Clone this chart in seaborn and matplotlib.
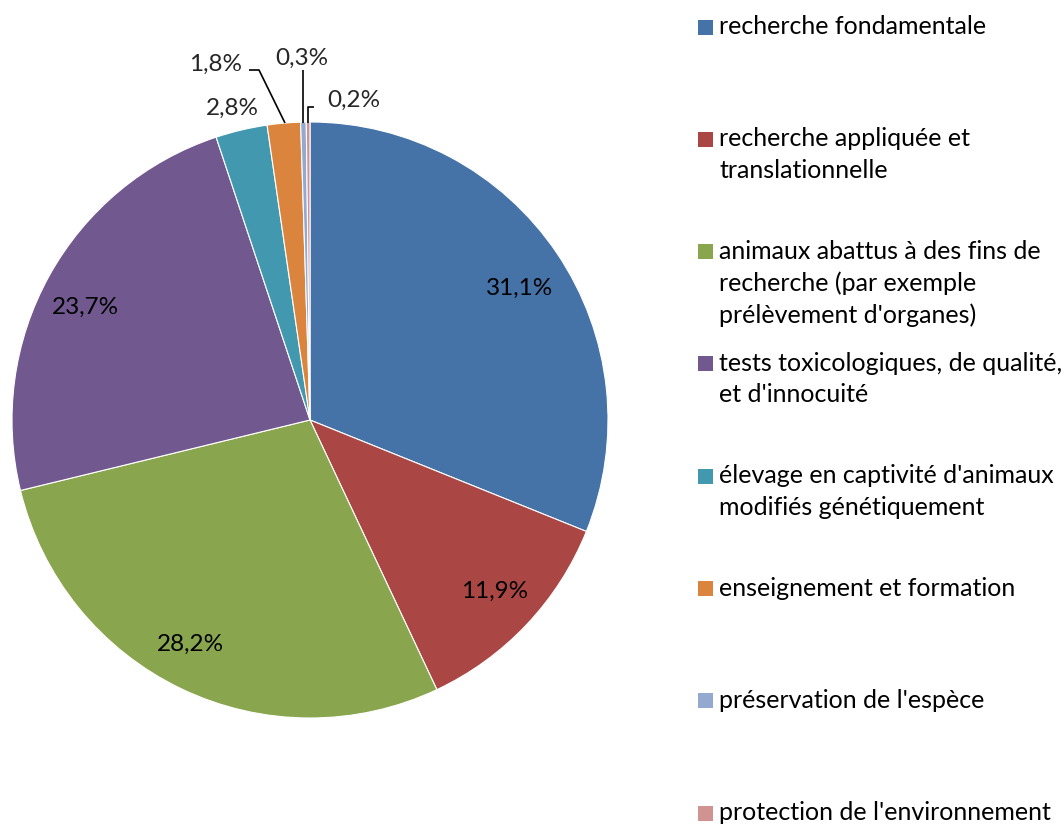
import matplotlib
matplotlib.use("Agg")
import matplotlib.pyplot as plt
from matplotlib.patches import Rectangle
import seaborn as sns
import numpy as np

categories = [
    "recherche fondamentale",
    "recherche appliquée et\ntranslationnelle",
    "animaux abattus à des fins de\nrecherche (par exemple\nprélèvement d'organes)",
    "tests toxicologiques, de qualité,\net d'innocuité",
    "élevage en captivité d'animaux\nmodifiés génétiquement",
    "enseignement et formation",
    "préservation de l'espèce",
    "protection de l'environnement",
]
values = [31.1, 11.9, 28.2, 23.7, 2.8, 1.8, 0.3, 0.2]
pct_labels = ["31,1%", "11,9%", "28,2%", "23,7%", "2,8%", "1,8%", "0,3%", "0,2%"]
colors = ["#4572A7", "#AA4643", "#89A54E", "#71588F", "#4198AF", "#DB843D", "#93A9CF", "#D19392"]

sns.set_theme(style="white")
plt.rcParams['font.family'] = ['Lato', 'DejaVu Sans']

W, H = 1064, 826
fig = plt.figure(figsize=(W / 100, H / 100), dpi=100)
fig.patch.set_facecolor("white")

# pie axes placed in pixel terms
cx, cy, R = 310, 420, 298
half = 320
ax = fig.add_axes([(cx - half) / W, (H - cy - half) / H, 2 * half / W, 2 * half / H])

wedges, _ = ax.pie(values, colors=colors, startangle=90, counterclock=False,
                   radius=1.0, wedgeprops=dict(edgecolor="white", linewidth=0.8))
ax.set_xlim(-half / R, half / R)
ax.set_ylim(-half / R, half / R)
ax.set_aspect("equal")
ax.axis("off")

fs_pct = 17.5
fs_leg = 18
# inside labels (layout nudges in pixels: right, down)
nudges = [(2, 8), (3, -1), (-12, -1), (-6, 9)]
for i in range(4):
    w = wedges[i]
    ang = np.deg2rad((w.theta1 + w.theta2) / 2)
    r = 0.84
    dx, dy = nudges[i]
    ax.text(r * np.cos(ang) + dx / R, r * np.sin(ang) - dy / R, pct_labels[i],
            ha="center", va="center", fontsize=fs_pct, color="black")

def px(x, y):
    return ((x - cx) / R, (cy - y) / R)

# outside labels with leader lines
ax.text(*px(232, 108), pct_labels[4], ha="center", va="center", fontsize=fs_pct)
ax.text(*px(216, 64), pct_labels[5], ha="center", va="center", fontsize=fs_pct)
ax.text(*px(302, 58), pct_labels[6], ha="center", va="center", fontsize=fs_pct)
ax.text(*px(354, 100), pct_labels[7], ha="center", va="center", fontsize=fs_pct)

def line(pts):
    xs, ys = zip(*[px(x, y) for x, y in pts])
    ax.plot(xs, ys, color="black", lw=1.2, solid_capstyle="butt", clip_on=False)

line([(249, 70), (259, 70), (285, 123)])
line([(303, 70), (303, 123)])
line([(314, 107), (308, 107), (308, 123)])

# legend (evenly spaced entries, Excel style)
top0 = 27
step = 112.3
for i, (lab, col) in enumerate(zip(categories, colors)):
    y = top0 + i * step
    fig.patches.append(Rectangle(((698) / W, (H - y - 7.5) / H), 15 / W, 15 / H,
                                 transform=fig.transFigure, facecolor=col, edgecolor="none"))
    fig.text(719 / W, (H - y + 12) / H, lab, ha="left", va="top", fontsize=fs_leg,
             color="black", linespacing=1.45)

fig.savefig("out.png", dpi=100, facecolor="white")
